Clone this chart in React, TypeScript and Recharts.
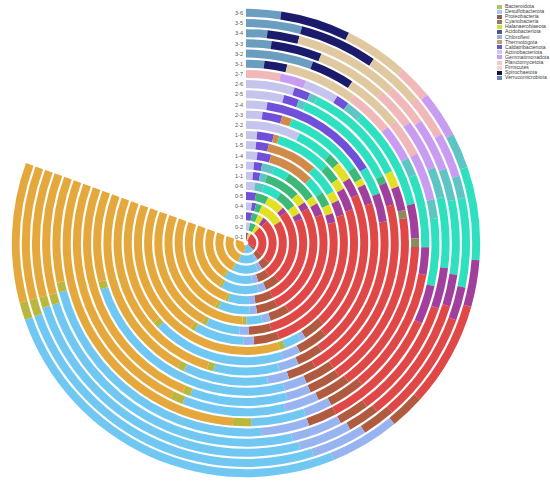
import {
  RadialBarChart,
  RadialBar,
  PolarAngleAxis,
  PolarRadiusAxis,
  Legend,
} from "recharts";

// rings, inner first
const rings = ["0-1", "0-2", "0-3", "0-4", "0-5", "0-6", "1-1", "1-3", "1-4", "1-5", "1-6", "2-2", "2-3", "2-4", "2-5", "2-6", "2-7", "3-1", "3-2", "3-3", "3-4", "3-5", "3-6"];

// relative abundance (%) per ring, inner first, in stacking order
const verrucomicrobiota = [0, 0, 0, 0, 0, 0, 0, 0, 0, 0, 0, 0, 0, 0, 0, 0, 0, 2, 7, 2.5, 2, 5, 3];
const spirochaetota = [0, 0, 0, 0, 0, 0, 0, 0, 0, 0, 0, 0, 0, 0, 0, 0, 0, 2.5, 4.5, 5, 3, 7, 6];
const firmicutes = [0, 0, 0, 0, 0, 0, 0, 0, 0, 0, 0, 0, 0, 0, 0, 0, 0, 8, 6, 7, 10, 5, 5.5];
const planctomycetota = [0, 0, 0, 0, 0, 0, 0, 0, 0, 0, 0, 0, 0, 0, 0, 0, 4, 5, 4, 4, 4, 4, 3];
const gemmatimonadota = [0, 0, 0, 0, 0, 0, 0, 0, 0, 0, 0, 0, 0, 0, 0, 0, 3, 4, 5, 5, 5, 4, 4];
const actinobacteriota = [0, 4, 0, 3, 0, 3, 2, 2, 2.5, 2, 2, 9, 2.5, 3, 5, 6, 4, 0, 0, 0, 0, 0, 0];
const caldatribacteriota = [4, 0, 4, 2, 4, 0, 2, 2, 3, 2.5, 3, 0, 3, 17, 2, 2, 1.5, 0, 0, 0, 0, 0, 0];
const thermotogota = [0, 0, 0, 0, 0, 0, 0, 0, 10, 10, 1, 0, 1.5, 0, 0, 0, 0, 0, 0, 0, 0, 0, 0];
const chloroflexi = [0, 0, 0, 0, 0, 3, 2, 3, 0, 0, 0, 0, 0, 0, 1, 1, 2, 2, 2, 3, 3, 2, 3];
const acidobacteriota = [0, 0, 0, 0, 0, 6, 0, 4, 4, 6, 10, 6, 12, 4, 14, 13, 12, 8, 7, 7, 7, 8, 8];
const otherA = [0, 6, 4, 3, 5, 6, 10, 8, 3, 0, 3, 2, 2, 0, 1, 0, 0, 0, 0, 0, 0, 0, 0];
const halanaerobiaeota = [6, 4, 4, 12, 7, 3, 3, 2, 2, 2, 2, 3, 1, 0, 0, 2, 0, 0, 0, 0, 0, 0, 0];
const otherB = [0, 0, 3, 0, 2, 2, 2, 3, 2, 3, 4, 3, 3, 4, 3, 3, 4, 3, 4, 4, 3, 3, 4];
const cyanobacteria = [0, 0, 0, 0, 0, 0, 0, 0, 0, 0, 0, 0, 0, 0, 0, 1, 1, 0, 0, 0, 0, 0, 0];
const proteobacteria = [30, 30, 30, 30, 30, 30, 32, 27, 30, 30, 22, 25, 25, 24, 24, 22, 18, 14, 13, 12, 12, 10, 9];
const otherC = [6, 6, 6, 6, 6, 6, 6, 5, 5, 5, 4, 5, 4, 4, 4, 4, 4, 4, 3, 3, 3, 3, 3];
const otherD = [0, 2, 3, 3, 3, 2, 2, 2, 2, 2, 1, 3, 3, 3, 3, 3, 4, 3, 5, 5, 5, 5, 6];
const desulfobacterota = [20, 18, 17, 14, 15, 7, 9, 4, 7.5, 10, 3, 22, 10, 12, 30, 12, 12, 6, 27.5, 29.5, 30, 30.5, 32];
const bacteroidota = [0, 0, 1, 1, 1, 1, 1, 1, 1, 1, 1, 1, 1, 1, 1, 1, 1.5, 2, 1, 1, 1, 1.5, 1.5];
const otherE = [34, 30, 28, 26, 27, 31, 29, 37, 28, 26.5, 44, 21, 32, 28, 12, 30, 29, 36.5, 11, 12, 12, 12, 12];

const series = [
  { key: "Verrucomicrobiota", values: verrucomicrobiota, color: "#6b9dc0" },
  { key: "Spirochaetota", values: spirochaetota, color: "#1b1b6b" },
  { key: "Firmicutes", values: firmicutes, color: "#e0c8a0" },
  { key: "Planctomycetota", values: planctomycetota, color: "#f0b8b8" },
  { key: "Gemmatimonadota", values: gemmatimonadota, color: "#c89cf0" },
  { key: "Actinobacteriota", values: actinobacteriota, color: "#c4c4ec" },
  { key: "Caldatribacteriota", values: caldatribacteriota, color: "#7050d8" },
  { key: "Thermotogota", values: thermotogota, color: "#d08a4a" },
  { key: "Chloroflexi", values: chloroflexi, color: "#5ec4c4" },
  { key: "Acidobacteriota", values: acidobacteriota, color: "#2ee0c0" },
  { key: "otherA", values: otherA, color: "#3cb878" },
  { key: "Halanaerobiaeota", values: halanaerobiaeota, color: "#e2e024" },
  { key: "otherB", values: otherB, color: "#a0409c" },
  { key: "Cyanobacteria", values: cyanobacteria, color: "#8c8a60" },
  { key: "Proteobacteria", values: proteobacteria, color: "#e04848" },
  { key: "otherC", values: otherC, color: "#b05a40" },
  { key: "otherD", values: otherD, color: "#98b4f0" },
  { key: "Desulfobacterota", values: desulfobacterota, color: "#70c8f2" },
  { key: "Bacteroidota", values: bacteroidota, color: "#b8b840" },
  { key: "otherE", values: otherE, color: "#e4a83c" },
];

// legend as shown in the picture (partial list)
const legendNames = ["Bacteroidota", "Desulfobacterota", "Proteobacteria", "Cyanobacteria", "Halanaerobiaeota", "Acidobacteriota", "Chloroflexi", "Thermotogota", "Caldatribacteriota", "Actinobacteriota", "Gemmatimonadota", "Planctomycetota", "Firmicutes", "Spirochaetota", "Verrucomicrobiota"];
const legendColors = ["#a8c860", "#a8c8f0", "#8a6050", "#907868", "#c8e040", "#4a5a88", "#98b0d0", "#c0a070", "#6a58c8", "#c8c8f0", "#c8a0f0", "#f0c8c8", "#f0d8c8", "#101050", "#6888b8"];

const table = rings.map((ring, i) => {
  const row: Record<string, string | number> = { ring };
  series.forEach((s) => {
    row[s.key] = s.values[i];
  });
  return row;
});

const FONT = "'Liberation Sans', Arial, sans-serif";

function RingTick(props: any) {
  const { x, y, payload } = props;
  return (
    <text x={x - 3} y={y + 2} textAnchor="end" fontSize={5.5} fill="#555" fontFamily={FONT}>
      {payload.value}
    </text>
  );
}

function LegendBox() {
  return (
    <div style={{ fontFamily: FONT, fontSize: 5.2, color: "#444", lineHeight: "5.1px" }}>
      {legendNames.map((name, i) => (
        <div key={name} style={{ display: "flex", alignItems: "center", height: 5.1 }}>
          <span style={{ width: 5, height: 4, background: legendColors[i], marginRight: 3, flexShrink: 0 }} />
          <span>{name}</span>
        </div>
      ))}
    </div>
  );
}

export default function App() {
  return (
    <div style={{ position: "absolute", left: 0, top: 0, width: 550, height: 488, background: "#fff" }}>
      <RadialBarChart
        width={550}
        height={488}
        data={table}
        cx={246}
        cy={243}
        innerRadius={1}
        outerRadius={235}
        startAngle={90}
        endAngle={-200}
        barCategoryGap="13%"
        margin={{ top: 0, right: 0, bottom: 0, left: 0 }}
      >
        <PolarAngleAxis type="number" domain={[0, 100]} tick={false} axisLine={false} />
        <PolarRadiusAxis
          type="category"
          dataKey="ring"
          angle={90}
          orientation="left"
          axisLine={false}
          tickLine={false}
          tick={RingTick}
        />
        {series.map((s) => (
          <RadialBar key={s.key} dataKey={s.key} stackId="a" fill={s.color} isAnimationActive={false} />
        ))}
        <Legend
          content={LegendBox}
          wrapperStyle={{ position: "absolute", left: 497, top: 4, width: 53 }}
        />
      </RadialBarChart>
    </div>
  );
}
